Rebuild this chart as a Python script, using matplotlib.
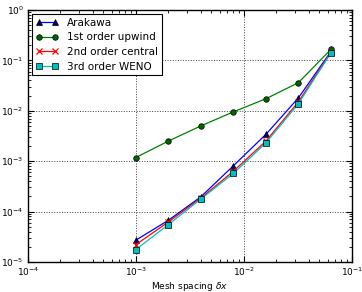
import matplotlib
matplotlib.use("Agg")
from matplotlib import pyplot as plt

# mesh spacing and error norms
dx = [1e-3, 2e-3, 4e-3, 8e-3, 1.6e-2, 3.2e-2, 6.4e-2]
arakawa = [2.7e-5, 6.7e-5, 1.96e-4, 8.1e-4, 3.4e-3, 1.8e-2, 0.15]
upwind = [1.18e-3, 2.5e-3, 5.0e-3, 9.5e-3, 1.73e-2, 3.6e-2, 0.165]
central = [2.2e-5, 6.2e-5, 1.85e-4, 6.3e-4, 2.5e-3, 1.5e-2, 0.145]
weno = [1.76e-5, 5.5e-5, 1.77e-4, 5.7e-4, 2.3e-3, 1.38e-2, 0.14]

plt.rcParams['font.family'] = ['DejaVu Sans']
plt.rcParams['mathtext.fontset'] = 'dejavusans'

fig = plt.figure(figsize=(3.62, 2.92), dpi=100)
ax = fig.add_axes([0.077, 0.103, 0.895, 0.863])

ax.loglog(dx, arakawa, '-^', color='blue', mfc='navy', mec='black',
          ms=4, mew=0.5, lw=0.9, label='Arakawa')
ax.loglog(dx, upwind, '-o', color='green', mfc='darkgreen', mec='black',
          ms=4, mew=0.5, lw=0.9, label='1st order upwind')
ax.loglog(dx, central, '-x', color='red', mec='red',
          ms=4, mew=0.9, lw=0.9, label='2nd order central')
ax.loglog(dx, weno, '-s', color='c', mfc='c', mec='black',
          ms=4, mew=0.5, lw=0.9, label='3rd order WENO')

ax.set_xlim(1e-4, 1e-1)
ax.set_ylim(1e-5, 1e0)
ax.grid(True, which='major', linestyle=':', color='0.25', linewidth=0.7)
ax.tick_params(which='both', direction='in', top=True, right=True, labelsize=6.5)
ax.tick_params(which='major', length=4, width=0.8, pad=3)
ax.tick_params(which='minor', length=2, width=0.6)
for s in ax.spines.values():
    s.set_linewidth(1.0)

ax.set_xlabel(r'Mesh spacing $\delta x$', fontsize=6.5, labelpad=1)
fig.text(-0.012, 0.53, 'Error norm', rotation=90, ha='center', va='center',
         fontsize=6.5, color='0.3')

leg = ax.legend(loc='upper left', fontsize=7.5, fancybox=False,
                framealpha=1, edgecolor='black', borderaxespad=0.4,
                handlelength=2.2, labelspacing=0.45, borderpad=0.35,
                numpoints=2)
leg.get_frame().set_linewidth(0.8)

fig.savefig('out.png', dpi=100)
